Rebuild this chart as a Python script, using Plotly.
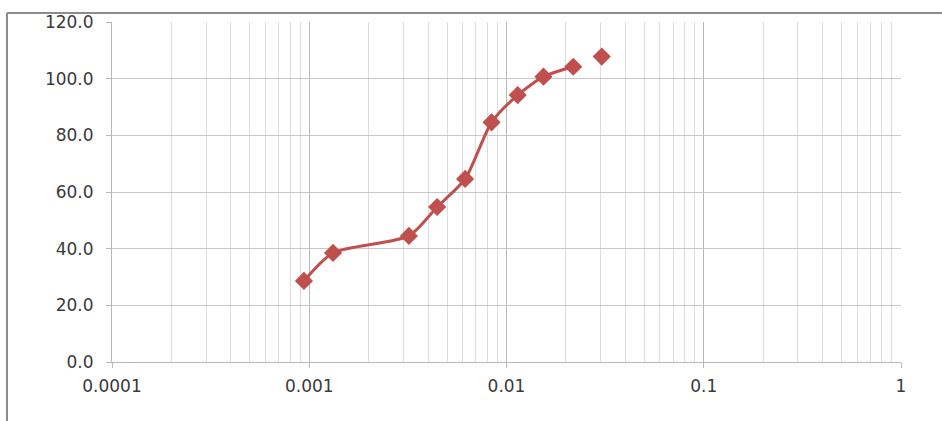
import plotly.graph_objects as go

# Particle size (mm) vs. cumulative value
size_mm = [0.00094, 0.00132, 0.0032, 0.00445, 0.00617, 0.0084, 0.0114, 0.0154, 0.0218]
value = [28.6, 38.5, 44.5, 54.7, 64.6, 84.6, 94.2, 100.7, 104.2]
# final reading plotted as a lone marker
extra_size = [0.0304]
extra_value = [107.8]

x_tickvals = [0.0001, 0.001, 0.01, 0.1, 1]
x_ticktext = ["0.0001", "0.001", "0.01", "0.1", "1"]
y_tickvals = [0, 20, 40, 60, 80, 100, 120]

red = "#C0504D"
minor_vals = [k * 10 ** e for e in range(-4, 0) for k in range(2, 10)]

fig = go.Figure()
fig.add_trace(go.Scatter(
    x=size_mm, y=value, mode="lines+markers",
    line=dict(color=red, width=3, shape="spline", smoothing=0.7),
    marker=dict(symbol="diamond", size=14, color=red),
    showlegend=False,
))
fig.add_trace(go.Scatter(
    x=extra_size, y=extra_value, mode="markers",
    marker=dict(symbol="diamond", size=14, color=red),
    showlegend=False,
))

font = dict(family="DejaVu Sans, Arial, sans-serif", size=17, color="#3a3a3a")

fig.update_xaxes(
    type="log", range=[-4, 0],
    tickvals=x_tickvals, ticktext=x_ticktext,
    showgrid=True, gridcolor="#b8b8b8", gridwidth=1,
    minor=dict(tickvals=minor_vals, showgrid=True, gridcolor="#dcdcdc", gridwidth=1),
    showline=True, linecolor="#b8b8b8", linewidth=1,
    ticks="outside", ticklen=5, tickcolor="#b8b8b8",
    ticklabelstandoff=4,
    tickfont=font, zeroline=False,
)
fig.update_yaxes(
    range=[0, 120], tickvals=y_tickvals, tickformat=".1f",
    showgrid=True, gridcolor="#c8c8c8", gridwidth=1,
    showline=True, linecolor="#b8b8b8", linewidth=1,
    ticks="outside", ticklen=5, tickcolor="#b8b8b8",
    ticklabelstandoff=9,
    tickfont=font, zeroline=False,
)

# Frame edges along the top and left of the chart
fig.add_shape(type="line", xref="paper", yref="paper",
              x0=-0.1331, x1=1.06, y0=1.0265, y1=1.0265,
              line=dict(color="#8c8c8c", width=2))
fig.add_shape(type="line", xref="paper", yref="paper",
              x0=-0.1331, x1=-0.1331, y0=1.0265, y1=-0.2,
              line=dict(color="#8c8c8c", width=2))

fig.update_layout(
    width=942, height=421,
    margin=dict(l=112, r=41, t=22, b=59),
    paper_bgcolor="white", plot_bgcolor="white",
)

fig.write_html("out.html")
